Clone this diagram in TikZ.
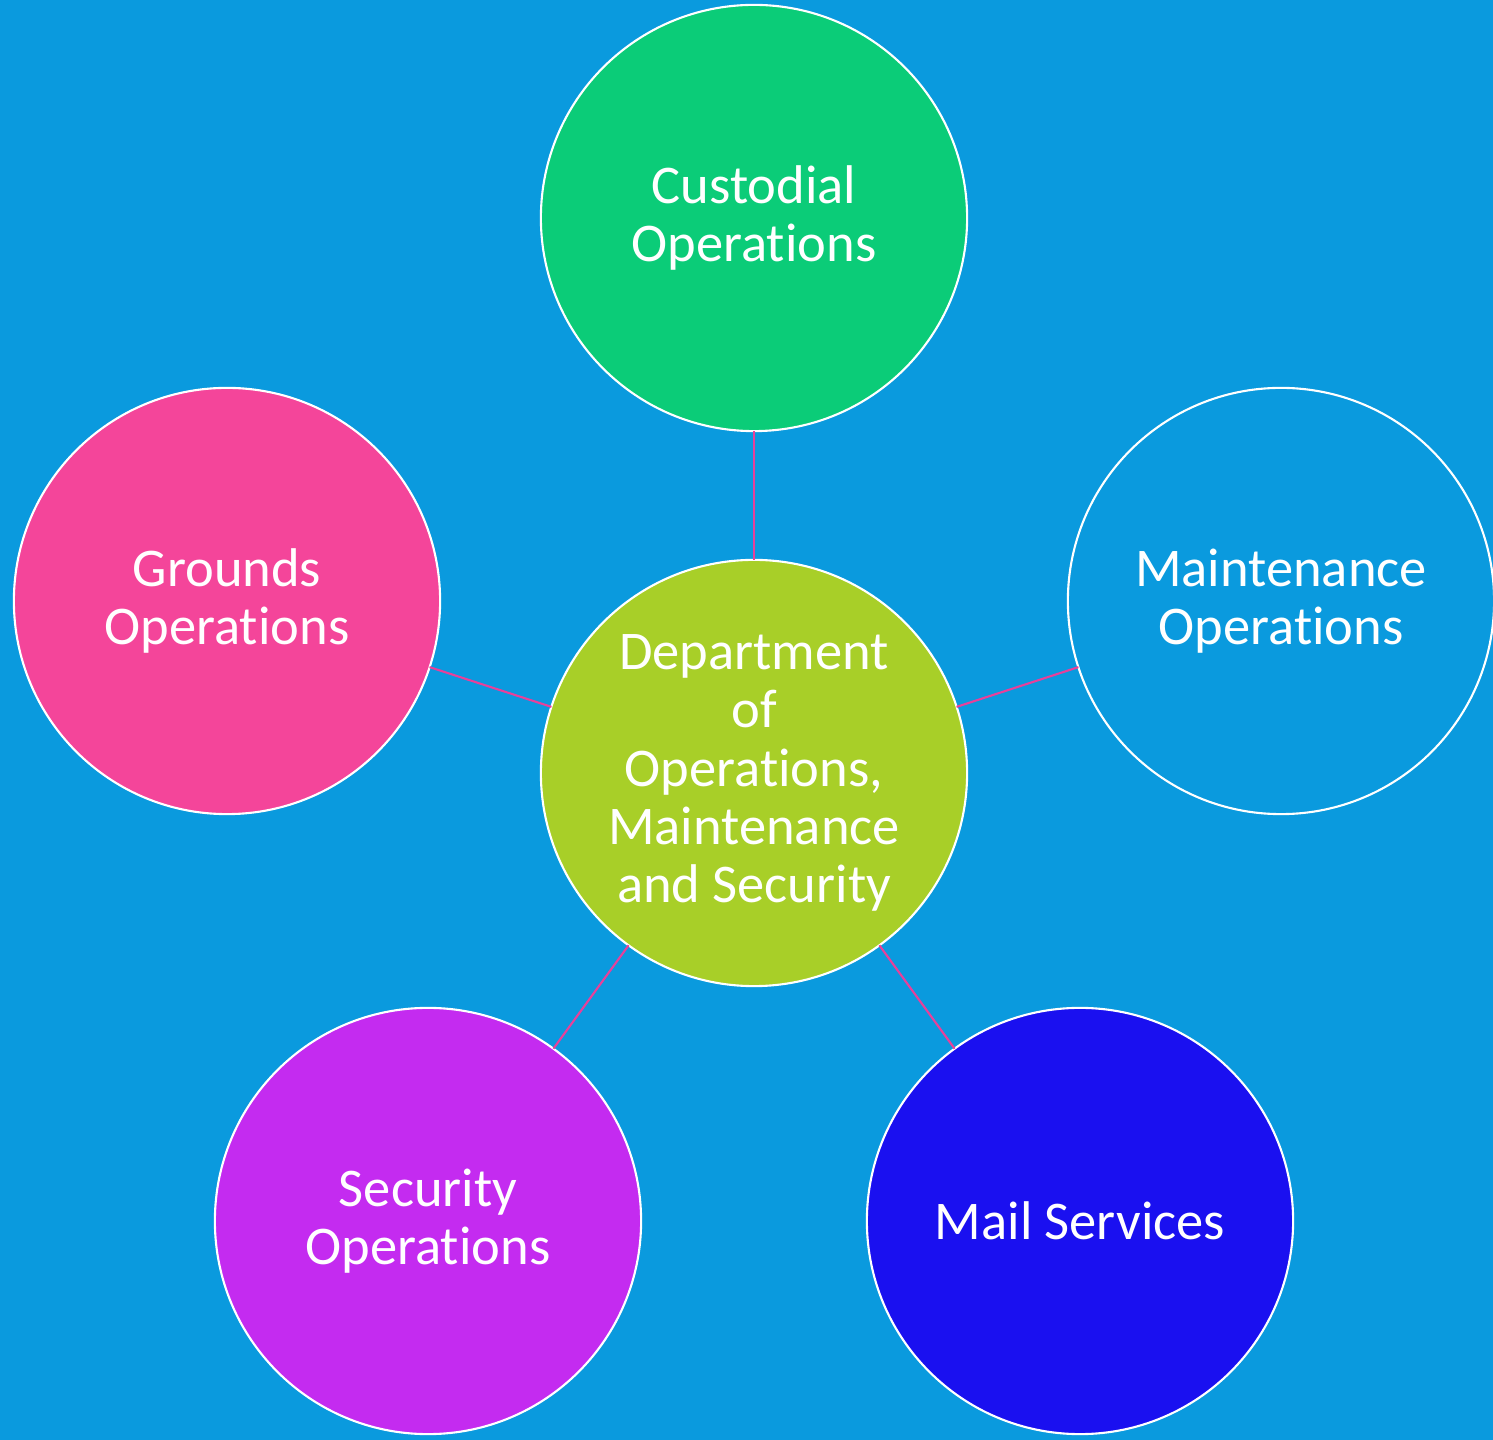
\documentclass[tikz,border=0pt]{standalone}
\usepackage{fontspec}
\setmainfont{Carlito}[Ligatures={NoCommon}]
\definecolor{bgblue}{HTML}{0A9ADE}
\definecolor{custgreen}{HTML}{0BCC78}
\definecolor{grpink}{HTML}{F4459A}
\definecolor{mainlime}{HTML}{A8CF28}
\definecolor{secviolet}{HTML}{C42BF0}
\definecolor{mailblue}{HTML}{1A10F0}
\definecolor{linkpink}{HTML}{E8409A}

\begin{document}
\begin{tikzpicture}[x=0.01cm, y=-0.01cm,
  bubble/.style={circle, draw=white, line width=0.6pt, minimum size=4.26cm,
    inner sep=0pt, outer sep=0pt, text=white, align=center,
    font=\fontsize{15.5}{16.6}\selectfont},
  link/.style={draw=linkpink, line width=0.6pt}]

% background
\fill[bgblue] (0,0) rectangle (1493,1440);
\useasboundingbox (0,0) rectangle (1493,1440);

% circles
\node[bubble, fill=mainlime] (dept) at (754,773)
  {Department\\of\\Operations,\\Maintenance\\and Security};
\node[bubble, fill=custgreen] (cust) at (754,218) {Custodial\\Operations};
\node[bubble, fill=grpink] (grounds) at (227,601) {Grounds\\Operations};
\node[bubble, fill=bgblue] (maint) at (1281,601) {Maintenance\\Operations};
\node[bubble, fill=secviolet] (secur) at (428,1221) {Security\\Operations};
\node[bubble, fill=mailblue] (mail) at (1080,1221) {Mail Services};

% links
\foreach \n in {cust, grounds, maint, secur, mail}
\path[link] (dept) -- (\n);
\end{tikzpicture}
\end{document}
